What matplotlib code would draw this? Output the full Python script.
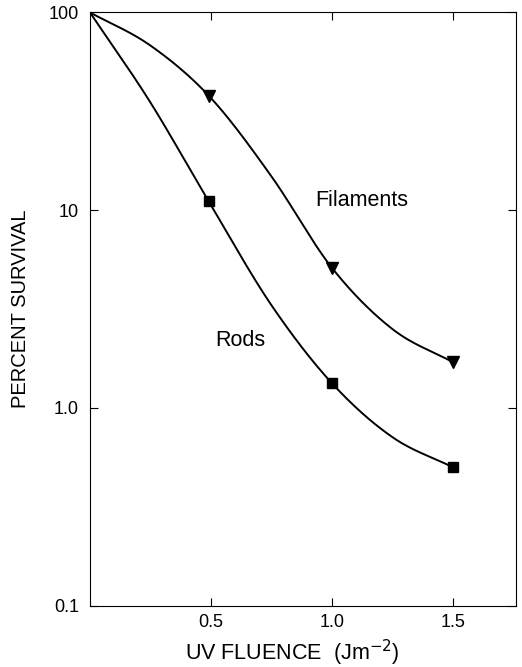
import numpy as np
import matplotlib.pyplot as plt
from matplotlib.ticker import FixedLocator, FixedFormatter, NullLocator

plt.rcParams['font.family'] = ['Liberation Sans', 'DejaVu Sans']

# measured points
dose = [0.49, 1.0, 1.5]
filaments = [38, 5.1, 1.7]
rods = [11.1, 1.33, 0.50]

# hand-drawn fit curves
fit_x = [0, 0.25, 0.49, 0.75, 1.0, 1.25, 1.5]
fil_fit = [100, 68, 38, 14.8, 5.1, 2.5, 1.7]
rod_fit = [100, 35, 11.1, 3.3, 1.33, 0.71, 0.50]

xticks = [0.5, 1.0, 1.5]
xticklabels = ['0.5', '1.0', '1.5']
yticks = [0.1, 1, 10, 100]
yticklabels = ['0.1', '1.0', '10', '100']


def smooth(x, y, n=40):
    # cubic hermite through the read points, in log space
    x = np.asarray(x, float)
    ly = np.log10(y)
    m = np.gradient(ly, x)
    xs, ys = [], []
    for i in range(len(x) - 1):
        h = x[i + 1] - x[i]
        t = np.linspace(0, 1, n, endpoint=False)
        h00 = 2*t**3 - 3*t**2 + 1
        h10 = t**3 - 2*t**2 + t
        h01 = -2*t**3 + 3*t**2
        h11 = t**3 - t**2
        xs.append(x[i] + t*h)
        ys.append(h00*ly[i] + h10*h*m[i] + h01*ly[i+1] + h11*h*m[i+1])
    xs.append([x[-1]])
    ys.append([ly[-1]])
    return np.concatenate(xs), 10**np.concatenate(ys)


fig = plt.figure(figsize=(5.22, 6.67), dpi=100)
ax = fig.add_axes([0.1724, 0.0922, 0.8161, 0.8891])

sx, sy = smooth(fit_x, fil_fit)
ax.plot(sx, sy, color='black', lw=1.4)
sx, sy = smooth(fit_x, rod_fit)
ax.plot(sx, sy, color='black', lw=1.4)

ax.plot(dose, filaments, 'v', color='black', markersize=9, clip_on=False)
ax.plot(dose, rods, 's', color='black', markersize=7, clip_on=False)

ax.set_yscale('log')
ax.set_xlim(0, 1.76)
ax.set_ylim(0.1, 100)

ax.xaxis.set_major_locator(FixedLocator(xticks))
ax.xaxis.set_major_formatter(FixedFormatter(xticklabels))
ax.yaxis.set_major_locator(FixedLocator(yticks))
ax.yaxis.set_major_formatter(FixedFormatter(yticklabels))
ax.yaxis.set_minor_locator(NullLocator())
ax.xaxis.set_minor_locator(NullLocator())
ax.tick_params(direction='in', length=6, width=0.8, top=True, right=True,
               labelsize=13)
ax.tick_params(axis='x', pad=6)
ax.tick_params(axis='y', pad=8)

for s in ax.spines.values():
    s.set_linewidth(0.8)

ax.set_xlabel('UV FLUENCE  (Jm$^{-2}$)', fontsize=15.5)
ax.xaxis.set_label_coords(0.475, -0.054)
ax.set_ylabel('PERCENT SURVIVAL', fontsize=14.5)
ax.yaxis.set_label_coords(-0.14, 0.5)

ax.text(1.124, 11.2, 'Filaments', fontsize=15.5, ha='center', va='center')
ax.text(0.62, 2.2, 'Rods', fontsize=15.5, ha='center', va='center')

plt.savefig('out.png', dpi=100)
